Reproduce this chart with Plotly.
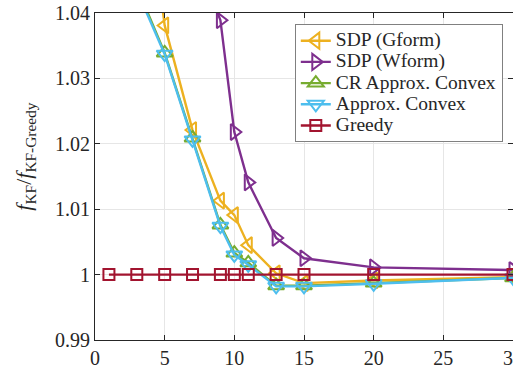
import plotly.graph_objects as go

x_vals = [1, 3, 5, 7, 9, 10, 11, 13, 15, 20, 30]

sdp_gform = [1.12, 1.072, 1.0381, 1.0221, 1.0113, 1.0091, 1.0045, 1.0002, 0.9987, 0.9991, 0.9996]
sdp_wform = [1.20, 1.12, 1.08, 1.050, 1.0389, 1.0218, 1.0141, 1.0056, 1.0025, 1.0011, 1.0007]
cr_approx = [1.07, 1.0440, 1.0339, 1.0209, 1.0076, 1.0033, 1.0018, 0.9983, 0.9983, 0.9987, 0.9995]
approx_convex = [1.068, 1.0435, 1.0337, 1.0206, 1.0074, 1.0030, 1.0015, 0.9982, 0.9982, 0.9986, 0.9995]
greedy = [1, 1, 1, 1, 1, 1, 1, 1, 1, 1, 1]

y_ticks = [0.99, 1.0, 1.01, 1.02, 1.03, 1.04]
y_ticktext = ["0.99", "1", "1.01", "1.02", "1.03", "1.04"]
x_ticks = [0, 5, 10, 15, 20, 25, 30]

series = [
    ("SDP (Gform)", sdp_gform, "#EDB120", "triangle-left-open", 14),
    ("SDP (Wform)", sdp_wform, "#7E2F8E", "triangle-right-open", 14),
    ("CR Approx. Convex", cr_approx, "#77AC30", "triangle-up-open", 14),
    ("Approx. Convex", approx_convex, "#4DBEEE", "triangle-down-open", 14),
    ("Greedy", greedy, "#A2142F", "square-open", 11),
]

font_family = "Liberation Serif"

fig = go.Figure()
for name, ys, color, sym, size in series:
    fig.add_trace(go.Scatter(
        x=x_vals, y=ys,
        name='<span style="font-size:19.5px">' + name + '</span>',
        mode="lines+markers",
        line=dict(color=color, width=2.4),
        marker=dict(symbol=sym, size=size, color=color, line=dict(width=2, color=color)),
    ))

axis_common = dict(
    showline=True, linecolor="#262626", linewidth=1, mirror="ticks",
    ticks="inside", ticklen=5, tickcolor="#262626",
    showgrid=True, gridcolor="#e6e6e6", gridwidth=1, zeroline=False,
    tickfont=dict(family=font_family, size=20, color="#262626"),
    automargin=False,
)

fig.update_layout(
    width=513, height=372,
    margin=dict(l=95, r=0, t=13, b=32, autoexpand=False),
    paper_bgcolor="white", plot_bgcolor="white",
    font=dict(family=font_family, color="#262626"),
    xaxis=dict(range=[0, 30], tickvals=x_ticks, ticklabeloverflow="allow", **axis_common),
    yaxis=dict(range=[0.99, 1.04], tickvals=y_ticks, ticktext=y_ticktext, **axis_common),
    legend=dict(x=0.478, y=0.966, xanchor="left", yanchor="top",
                bgcolor="white", bordercolor="#808080", borderwidth=1,
                font=dict(family=font_family, size=14, color="#262626"),
                tracegroupgap=0, itemwidth=30),
    showlegend=True,
    annotations=[dict(
        text="<i>f</i><sub>KF</sub>/<i>f</i><sub>KF-Greedy</sub>",
        xref="paper", yref="paper", x=-0.168, y=0.56,
        xanchor="center", yanchor="middle", textangle=-90, showarrow=False,
        font=dict(family=font_family, size=22, color="#262626"),
    )],
)

fig.write_html("out.html")
